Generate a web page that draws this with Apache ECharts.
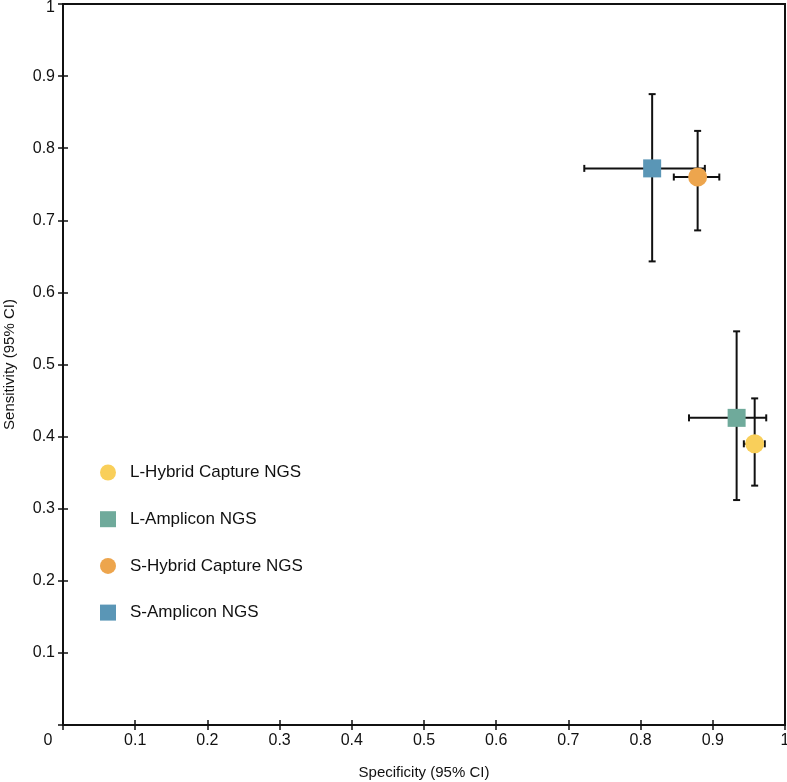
<!DOCTYPE html>
<html><head><meta charset="utf-8">
<script src="https://cdn.jsdelivr.net/npm/echarts@6/dist/echarts.min.js"></script>
<style>html,body{margin:0;padding:0;background:#fff}#c{width:787px;height:782px}</style>
</head><body><div id="c"></div>
<script>
const names = ['L-Hybrid Capture NGS','L-Amplicon NGS','S-Hybrid Capture NGS','S-Amplicon NGS'];
const symbols = ['circle','rect','circle','rect'];
const colors = ['#F9CF5A','#6FAA9B','#EDA54D','#5A96B6'];
const specificity = [0.958, 0.933, 0.879, 0.816];
const specLow = [0.943, 0.867, 0.846, 0.722];
const specHigh = [0.972, 0.974, 0.909, 0.889];
const sensitivity = [0.390, 0.426, 0.760, 0.772];
const sensLow = [0.332, 0.312, 0.686, 0.643];
const sensHigh = [0.453, 0.546, 0.824, 0.875];
const xName = 'Specificity (95% CI)';
const yName = 'Sensitivity (95% CI)';

const chart = echarts.init(document.getElementById('c'));
const font = 'Liberation Sans, Arial, sans-serif';
const axisBase = {type:'value', min:0, max:1, interval:0.1, splitLine:{show:false}};
const lbl = {color:'#111', fontSize:16, fontFamily:font};

const errData = names.map((n,i)=>[specificity[i], sensitivity[i], specLow[i], specHigh[i], sensLow[i], sensHigh[i]]);

function renderErr(params, api){
  const x = api.value(0), y = api.value(1);
  const xl = api.coord([api.value(2), y]), xh = api.coord([api.value(3), y]);
  const yl = api.coord([x, api.value(4)]), yh = api.coord([x, api.value(5)]);
  const c = 3.5;
  const st = {stroke:'#111', lineWidth:2};
  return {type:'group', children:[
    {type:'line', shape:{x1:xl[0],y1:xl[1],x2:xh[0],y2:xh[1]}, style:st},
    {type:'line', shape:{x1:xl[0],y1:xl[1]-c,x2:xl[0],y2:xl[1]+c}, style:st},
    {type:'line', shape:{x1:xh[0],y1:xh[1]-c,x2:xh[0],y2:xh[1]+c}, style:st},
    {type:'line', shape:{x1:yl[0],y1:yl[1],x2:yh[0],y2:yh[1]}, style:st},
    {type:'line', shape:{x1:yl[0]-c,y1:yl[1],x2:yl[0]+c,y2:yl[1]}, style:st},
    {type:'line', shape:{x1:yh[0]-c,y1:yh[1],x2:yh[0]+c,y2:yh[1]}, style:st}
  ]};
}

const series = [{
  type:'custom', name:'err', renderItem:renderErr, data:errData, z:1, silent:true,
  encode:{x:[0,2,3], y:[1,4,5]}
}];
names.forEach((n,i)=>{
  series.push({
    type:'scatter', name:n, symbol:symbols[i], symbolSize: symbols[i]==='circle'?19:18,
    itemStyle:{color:colors[i], opacity:1}, z:3,
    data:[[specificity[i], sensitivity[i]]]
  });
});

chart.setOption({
  animation:false,
  backgroundColor:'#fff',
  grid:{left:63, right:2, top:4, bottom:57, containLabel:false, outerBoundsMode:'none',
        show:true, borderColor:'#111', borderWidth:2},
  legend:{
    orient:'vertical', left:95, top:459, itemGap:29.7, itemWidth:16, itemHeight:16,
    data:names.map((n,i)=>({name:n, icon:symbols[i]})),
    textStyle:{color:'#111', fontSize:17, lineHeight:16, fontFamily:font, padding:[0,0,0,9]}
  },
  xAxis:[
    Object.assign({}, axisBase, {
      position:'bottom', name:xName, nameLocation:'middle', nameGap:40,
      nameTextStyle:{color:'#111', fontSize:15, fontFamily:font},
      axisLine:{lineStyle:{color:'#111', width:2}},
      axisTick:{inside:false, length:5, lineStyle:{color:'#111', width:1.5}},
      axisLabel:Object.assign({}, lbl, {margin:8,
        formatter:v=> v===0 ? '{o|0}' : String(Math.round(v*10)/10),
        rich:{o:{color:'#111', fontSize:16, fontFamily:font, padding:[0,30,0,0]}}})
    }),
    Object.assign({}, axisBase, {
      position:'bottom', axisLine:{show:false},
      axisTick:{inside:true, length:5, lineStyle:{color:'#111', width:1.5}},
      axisLabel:{show:false}
    })
  ],
  yAxis:[
    Object.assign({}, axisBase, {
      position:'left', name:yName, nameLocation:'middle', nameGap:46,
      nameTextStyle:{color:'#111', fontSize:15, fontFamily:font},
      axisLine:{lineStyle:{color:'#111', width:2}},
      axisTick:{inside:false, length:5, lineStyle:{color:'#111', width:1.5}},
      axisLabel:Object.assign({}, lbl, {margin:8,
        formatter:v=> v===0 ? '' : (v===1 ? '{t|1}' : String(Math.round(v*10)/10)),
        rich:{t:{color:'#111', fontSize:16, fontFamily:font, padding:[7,0,0,0]}}})
    }),
    Object.assign({}, axisBase, {
      position:'left', axisLine:{show:false},
      axisTick:{inside:true, length:5, lineStyle:{color:'#111', width:1.5}},
      axisLabel:{show:false}
    })
  ],
  series:series
});
</script></body></html>
